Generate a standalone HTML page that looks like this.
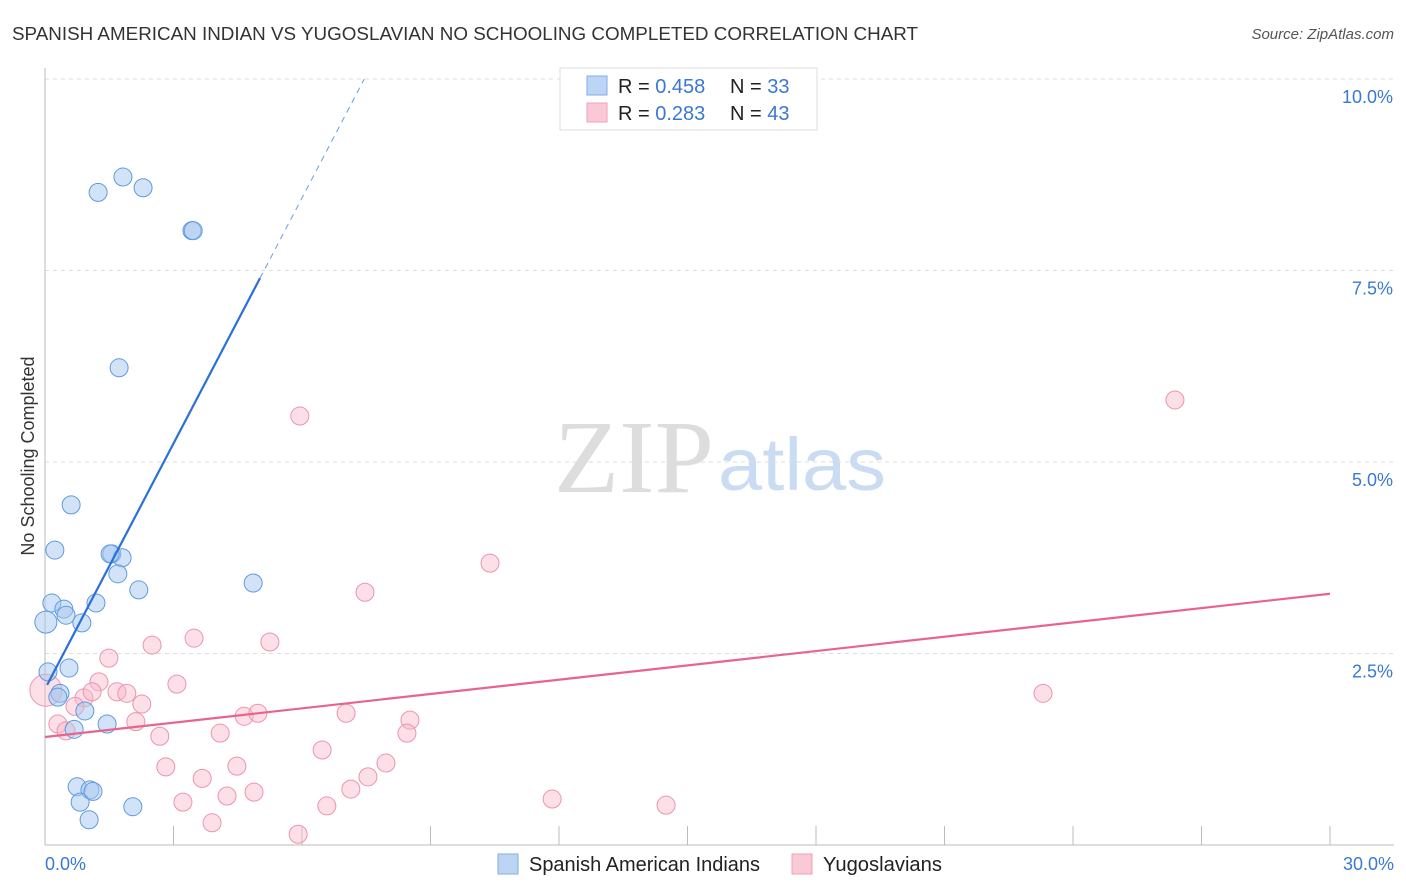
<!DOCTYPE html>
<html><head><meta charset="utf-8"><style>
body{margin:0;background:#fff;font-family:"Liberation Sans",sans-serif;}
svg{display:block}
</style></head><body>
<svg id="chart" width="1406" height="892">
<text x="12" y="40" font-size="18" fill="#333" textLength="906" lengthAdjust="spacingAndGlyphs">SPANISH AMERICAN INDIAN VS YUGOSLAVIAN NO SCHOOLING COMPLETED CORRELATION CHART</text>
<text x="1394" y="39" font-size="15" fill="#555" font-style="italic" text-anchor="end">Source: ZipAtlas.com</text>
<text x="714" y="492" font-size="104" fill="#ddd" text-anchor="end" font-family="Liberation Serif,serif" textLength="160" lengthAdjust="spacingAndGlyphs">ZIP</text>
<text x="718" y="490" font-size="74" fill="#c9dcf2" textLength="168" lengthAdjust="spacingAndGlyphs">atlas</text>
<text transform="translate(34,456) rotate(-90)" font-size="18" fill="#333" text-anchor="middle">No Schooling Completed</text>
<g id="grid"></g><g id="axes"></g><g id="pink"></g><g id="blue"></g><g id="lines"></g>
<g>
<rect x="560" y="68" width="257" height="62" fill="#fff" stroke="#ddd"/>
<rect x="587" y="76" width="20" height="19" fill="#bcd5f5" stroke="#80aee8"/>
<rect x="587" y="103" width="20" height="19" fill="#fbc8d6" stroke="#f0a0b8"/>
<text x="618" y="93" font-size="20" fill="#222">R = <tspan fill="#3a78d4">0.458</tspan><tspan x="730">N = </tspan><tspan fill="#3a78d4">33</tspan></text>
<text x="618" y="120" font-size="20" fill="#222">R = <tspan fill="#3a78d4"> 0.283</tspan><tspan x="730">N = </tspan><tspan fill="#3a78d4">43</tspan></text>
</g>
<g>
<rect x="498" y="854" width="20" height="20" fill="#bcd5f5" stroke="#80aee8"/>
<text x="529" y="871" font-size="20" fill="#222" textLength="231" lengthAdjust="spacingAndGlyphs">Spanish American Indians</text>
<rect x="792" y="854" width="20" height="20" fill="#fbc8d6" stroke="#f0a0b8"/>
<text x="823" y="871" font-size="20" fill="#222" textLength="119" lengthAdjust="spacingAndGlyphs">Yugoslavians</text>
</g>
</svg>
<script>
const yTicks=[2.5,5,7.5,10];
const yTickLabels=["2.5%","5.0%","7.5%","10.0%"];
const xTicks=[0,3,6,9,12,15,18,21,24,27,30];
const blueX=[1.24,1.82,2.29,3.43,3.46,1.73,0.61,0.23,1.56,1.80,1.70,2.19,4.86,0.16,0.44,0.49,1.19,0.86,0.02,0.07,0.56,0.35,0.30,0.93,0.68,1.45,0.75,1.05,0.82,2.05,1.03,1.52,1.12];
const blueY=[8.52,8.72,8.58,8.02,8.02,6.23,4.44,3.85,3.80,3.75,3.54,3.33,3.42,3.16,3.08,3.00,3.16,2.90,2.91,2.26,2.31,1.98,1.93,1.75,1.51,1.58,0.76,0.72,0.56,0.50,0.33,3.80,0.70];
const pinkX=[5.95,26.38,10.39,7.47,3.48,2.50,5.25,1.49,0.02,1.26,0.91,1.10,1.68,1.91,3.08,2.26,0.70,0.30,0.49,2.12,2.68,4.65,4.97,7.03,8.52,8.45,4.09,6.47,2.82,4.48,7.96,3.67,7.54,7.14,3.22,4.25,4.88,6.58,11.84,14.50,3.90,5.91,23.30];
const pinkY=[5.60,5.81,3.68,3.30,2.70,2.61,2.65,2.44,2.02,2.13,1.92,2.00,2.00,1.98,2.10,1.84,1.81,1.58,1.49,1.61,1.42,1.68,1.72,1.72,1.63,1.46,1.46,1.24,1.02,1.03,1.07,0.87,0.89,0.73,0.56,0.64,0.69,0.51,0.60,0.52,0.29,0.14,1.98];
const blueTrend=[0.05,2.09,5.02,7.40,10.0];
const pinkTrend=[0,1.41,30,3.28];
const NS="http://www.w3.org/2000/svg";
const X=v=>45+v/30*1285, Y=v=>845-v*76.6;
function mk(p,t,a){const e=document.createElementNS(NS,t);for(const k in a)e.setAttribute(k,a[k]);document.getElementById(p).appendChild(e);return e;}
yTicks.forEach((t,i)=>{
 const g=mk('grid','line',{x1:45,x2:1394,y1:Y(t),y2:Y(t),stroke:'#ddd','stroke-dasharray':'4,4'});
 
 
 const l=mk('grid','text',{x:1393,y:Y(t)+24,'font-size':18,fill:'#3a78d4','text-anchor':'end'});l.textContent=yTickLabels[i];
 
 
});
mk('axes','line',{x1:45,x2:45,y1:68,y2:845,stroke:'#bbb'});
mk('axes','line',{x1:45,x2:1394,y1:845,y2:845,stroke:'#bbb'});
xTicks.forEach(t=>{const e=mk('axes','line',{x1:X(t),x2:X(t),y1:826,y2:845,stroke:'#bbb'});
 
 });
let a=mk('axes','text',{x:45,y:870,'font-size':18,fill:'#3a78d4'});a.textContent='0.0%';


a=mk('axes','text',{x:1394,y:870,'font-size':18,fill:'#3a78d4','text-anchor':'end'});a.textContent='30.0%';


pinkX.forEach((x,i)=>{const c=mk('pink','circle',{cx:X(x),cy:Y(pinkY[i]),r:(x<0.1?16:9),fill:'#f8b8ca','fill-opacity':0.45,stroke:'#ec94ae','stroke-width':1});
 
 });
blueX.forEach((x,i)=>{const c=mk('blue','circle',{cx:X(x),cy:Y(blueY[i]),r:(x<0.05?11:9),fill:'#a8c8f0','fill-opacity':0.5,stroke:'#5e9be0','stroke-width':1});
 
 });
let t=mk('lines','line',{x1:X(blueTrend[0]),y1:Y(blueTrend[1]),x2:X(blueTrend[2]),y2:Y(blueTrend[3]),stroke:'#2a70d8','stroke-width':2.2});


const slope=(blueTrend[3]-blueTrend[1])/(blueTrend[2]-blueTrend[0]);
const xe=blueTrend[2]+(blueTrend[4]-blueTrend[3])/slope;
t=mk('lines','line',{x1:X(blueTrend[2]),y1:Y(blueTrend[3]),x2:X(xe),y2:Y(blueTrend[4]),stroke:'#6a9ee0','stroke-width':1,'stroke-dasharray':'6,5'});


t=mk('lines','line',{x1:X(pinkTrend[0]),y1:Y(pinkTrend[1]),x2:X(pinkTrend[2]),y2:Y(pinkTrend[3]),stroke:'#e8648e','stroke-width':2.2});


</script>
</body></html>
